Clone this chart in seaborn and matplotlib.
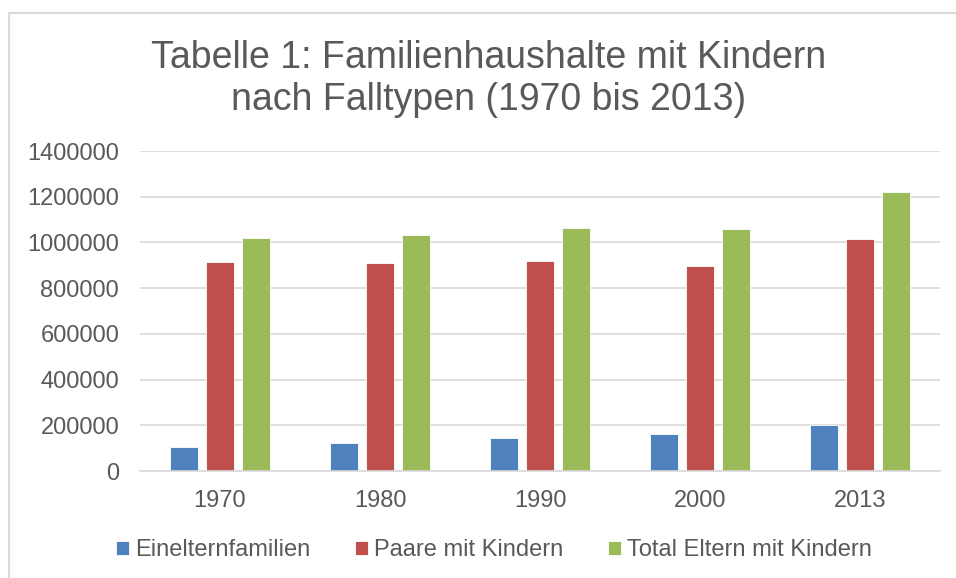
import numpy as np
import pandas as pd
import seaborn as sns
import matplotlib.pyplot as plt
from matplotlib.lines import Line2D

# data
years = ["1970", "1980", "1990", "2000", "2013"]
einelternfamilien = [105000, 122500, 144400, 160400, 202700]
paare_mit_kindern = [912900, 910000, 917300, 896900, 1016500]
total_eltern = [1017900, 1034000, 1061700, 1057300, 1220600]
series_names = ["Einelternfamilien", "Paare mit Kindern", "Total Eltern mit Kindern"]
colors = ["#4F81BD", "#C0504D", "#9BBB59"]

df = pd.DataFrame({"Jahr": years * 3,
                   "Typ": [series_names[0]] * 5 + [series_names[1]] * 5 + [series_names[2]] * 5,
                   "Wert": einelternfamilien + paare_mit_kindern + total_eltern})

sns.set_style("white")
plt.rcParams['font.family'] = ['Liberation Sans', 'DejaVu Sans']
txt = "#595959"

fig = plt.figure(figsize=(9.56, 5.78), dpi=100)
ax = fig.add_axes([140/956, 1 - 471/578, 800/956, 320/578])

sns.barplot(data=df, x="Jahr", y="Wert", hue="Typ", palette=colors, saturation=1,
            width=0.67, gap=0.22, ax=ax, edgecolor="white", linewidth=0.6)

ax.set_ylim(0, 1400000)
ax.set_yticks(np.arange(0, 1400001, 200000))
ax.set_yticklabels([str(v) for v in range(0, 1400001, 200000)])
ax.yaxis.grid(True, color="#D9D9D9", linewidth=1.2)
ax.set_axisbelow(True)
for s in ["top", "right", "left"]:
    ax.spines[s].set_visible(False)
ax.spines["bottom"].set_color("#D9D9D9")
ax.spines["bottom"].set_linewidth(1.2)
ax.tick_params(axis="both", length=0, labelsize=17, labelcolor=txt)
ax.tick_params(axis="x", pad=14)
ax.tick_params(axis="y", pad=15)
ax.set_xlabel("")
ax.set_ylabel("")

fig.text(0.511, 1 - 79/578, "Tabelle 1: Familienhaushalte mit Kindern\nnach Falltypen (1970 bis 2013)",
         ha="center", va="center", fontsize=27, color=txt, linespacing=1.25)

ax.legend(loc="center", bbox_to_anchor=(0.517, 1 - 550/578), bbox_transform=fig.transFigure,
          ncol=3, frameon=False, fontsize=17, handlelength=0.55, handleheight=0.55,
          handletextpad=0.25, columnspacing=1.9, labelcolor=txt)

# chart frame: only left and top edges are visible in the crop
bx, by = 8.5/956, 1 - 12.5/578
fig.lines.append(Line2D([bx, bx, 1], [0, by, by], transform=fig.transFigure,
                        color="#D9D9D9", linewidth=1.5))

fig.savefig("out.png", dpi=100)
